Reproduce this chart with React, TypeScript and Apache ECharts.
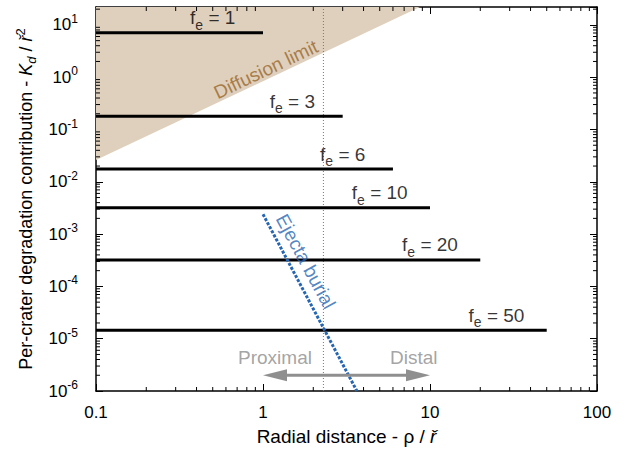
import React, { useEffect, useRef } from "react";
import * as echarts from "echarts";

// ---- data ----
const xRange = [0.1, 100];
const yRange = [1e-6, 22];
const feValues = [1, 3, 6, 10, 20, 50];
const feLevels = [7.1, 0.18, 0.0175, 0.0032, 0.00032, 0.0000145];
const diffusionBoundary = [
  [0.1, 0.026],
  [8.7, 22],
];
const ejectaBurial = [
  [1, 0.0024],
  [3.65, 1e-6],
];
const regionDivider = 2.3;
const arrowSpan = [1, 10];
const arrowLevel = 2e-6;
const xMajorLabels = ["0.1", "1", "10", "100"];
const mantissas = [2, 3, 4, 5, 6, 7, 8, 9];
const xDecades = [0.1, 1, 10];
const yDecades = [1e-6, 1e-5, 1e-4, 1e-3, 1e-2, 1e-1, 1, 10];
const diffusionLabelAt = [1.04, 1.41];
const ejectaLabelAt = [1.8, 3.0e-4];
const proximalLabelAt = [1.18, 4.3e-6];
const distalLabelAt = [8.0, 4.3e-6];

const FONT = "'Liberation Sans', Arial, Helvetica, sans-serif";

const xMinorTicks: number[] = [];
xDecades.forEach((d) => mantissas.forEach((m) => xMinorTicks.push(+(m * d).toPrecision(3))));
const yMinorTicks: number[] = [];
yDecades.forEach((d) =>
  mantissas.forEach((m) => {
    const v = +(m * d).toPrecision(3);
    if (v < yRange[1]) yMinorTicks.push(v);
  })
);

export default function App() {
  const ref = useRef<HTMLDivElement>(null);
  useEffect(() => {
    if (!ref.current) return;
    const chart = echarts.init(ref.current, null, { renderer: "svg" });
    const axisLine = { show: true, onZero: false, lineStyle: { color: "#000", width: 1.5 } };
    const majorTick = { show: true, inside: true, length: 7, lineStyle: { color: "#000", width: 1 } };
    const feRich = {
      f: { fontSize: 19, fontFamily: FONT, color: "#000", lineHeight: 28 },
      e: { fontSize: 14, fontFamily: FONT, color: "#000", lineHeight: 14, verticalAlign: "bottom" },
    };

    const series: any[] = [];
    // diffusion limit shaded region
    series.push({
      type: "line",
      data: diffusionBoundary,
      symbol: "none",
      lineStyle: { width: 0 },
      areaStyle: { color: "#dfd0bd", opacity: 1, origin: "end" },
      z: 1,
      silent: true,
    });
    // vertical dotted divider
    series.push({
      type: "line",
      data: [
        [regionDivider, yRange[0]],
        [regionDivider, yRange[1]],
      ],
      symbol: "none",
      lineStyle: { color: "#777", width: 1, type: [1, 2] },
      z: 2,
      silent: true,
    });
    // f_e lines
    feValues.forEach((fe, i) => {
      series.push({
        type: "line",
        data: [
          [xRange[0], feLevels[i]],
          [fe, feLevels[i]],
        ],
        symbol: "none",
        lineStyle: { color: "#000", width: 3 },
        z: 3,
        silent: true,
      });
    });
    // f_e labels
    series.push({
      type: "scatter",
      symbolSize: 0,
      data: feValues.map((fe, i) => [fe / 2, feLevels[i]]),
      label: {
        show: true,
        position: "top",
        distance: 1,
        formatter: (p: any) => `{f|f}{e|e}{f| = ${feValues[p.dataIndex]}}`,
        rich: feRich,
      },
      z: 6,
      silent: true,
    });
    // ejecta burial
    series.push({
      type: "line",
      data: ejectaBurial,
      symbol: "none",
      lineStyle: { color: "#2566b3", width: 3, type: [3, 1.6] },
      z: 4,
      silent: true,
    });
    // annotation texts
    series.push({
      type: "scatter",
      symbolSize: 0,
      data: [
        { value: diffusionLabelAt, label: { formatter: "Diffusion limit", rotate: 25.4, color: "#99662a" } },
        { value: ejectaLabelAt, label: { formatter: "Ejecta burial", rotate: -61.7, color: "#2566b3" } },
        { value: proximalLabelAt, label: { formatter: "Proximal", color: "#8c8c8c" } },
        { value: distalLabelAt, label: { formatter: "Distal", color: "#8c8c8c" } },
      ],
      label: { show: true, position: "inside", fontSize: 19, fontFamily: FONT },
      z: 6,
      silent: true,
    });
    // arrow
    series.push({
      type: "custom",
      data: [[arrowSpan[0], arrowLevel]],
      clip: false,
      silent: true,
      z: 5,
      renderItem: (params: any, api: any) => {
        const a = api.coord([arrowSpan[0], arrowLevel]);
        const b = api.coord([arrowSpan[1], arrowLevel]);
        const hl = 24;
        const hw = 6;
        const col = "#8f8f8f";
        return {
          type: "group",
          children: [
            { type: "line", shape: { x1: a[0] + hl - 2, y1: a[1], x2: b[0] - hl + 2, y2: b[1] }, style: { stroke: col, lineWidth: 3 } },
            { type: "polygon", shape: { points: [[a[0], a[1]], [a[0] + hl, a[1] - hw], [a[0] + hl, a[1] + hw]] }, style: { fill: col } },
            { type: "polygon", shape: { points: [[b[0], b[1]], [b[0] - hl, b[1] - hw], [b[0] - hl, b[1] + hw]] }, style: { fill: col } },
          ],
        };
      },
    });
    // minor ticks x (bottom & top)
    series.push({
      type: "custom",
      data: xMinorTicks.map((v) => [v, yRange[0]]),
      clip: false,
      silent: true,
      z: 7,
      renderItem: (params: any, api: any) => {
        const v = api.value(0);
        const b = api.coord([v, yRange[0]]);
        const t = api.coord([v, yRange[1]]);
        return {
          type: "group",
          children: [
            { type: "line", shape: { x1: b[0], y1: b[1], x2: b[0], y2: b[1] - 4 }, style: { stroke: "#000", lineWidth: 1 } },
            { type: "line", shape: { x1: t[0], y1: t[1], x2: t[0], y2: t[1] + 4 }, style: { stroke: "#000", lineWidth: 1 } },
          ],
        };
      },
    });
    // minor ticks y (left & right)
    series.push({
      type: "custom",
      data: yMinorTicks.map((v) => [xRange[0], v]),
      clip: false,
      silent: true,
      z: 7,
      renderItem: (params: any, api: any) => {
        const v = api.value(1);
        const l = api.coord([xRange[0], v]);
        const r = api.coord([xRange[1], v]);
        return {
          type: "group",
          children: [
            { type: "line", shape: { x1: l[0], y1: l[1], x2: l[0] + 4, y2: l[1] }, style: { stroke: "#000", lineWidth: 1 } },
            { type: "line", shape: { x1: r[0], y1: r[1], x2: r[0] - 4, y2: r[1] }, style: { stroke: "#000", lineWidth: 1 } },
          ],
        };
      },
    });

    const option: any = {
      animation: false,
      backgroundColor: "#fff",
      grid: { left: 96, right: 41, top: 7, bottom: 63, outerBoundsMode: "none", containLabel: false },
      xAxis: [
        {
          type: "log",
          logBase: 10,
          min: xRange[0],
          max: xRange[1],
          position: "bottom",
          axisLine,
          axisTick: majorTick,
          splitLine: { show: false },
          axisLabel: {
            fontSize: 17,
            fontFamily: FONT,
            color: "#000",
            margin: 13,
            formatter: (v: number) => {
              const k = Math.round(Math.log10(v) + 1);
              return Math.abs(Math.log10(v) + 1 - k) < 1e-6 ? xMajorLabels[k] ?? "" : "";
            },
          },
          name: "{n|Radial distance - ρ / }{i|ř}",
          nameLocation: "middle",
          nameGap: 33,
          nameTextStyle: {
            rich: {
              n: { fontSize: 19, fontFamily: FONT, color: "#000", lineHeight: 24 },
              i: { fontSize: 19, fontFamily: FONT, color: "#000", fontStyle: "italic", lineHeight: 24 },
            },
          },
        },
        {
          type: "log",
          logBase: 10,
          min: xRange[0],
          max: xRange[1],
          position: "top",
          axisLine,
          axisTick: majorTick,
          splitLine: { show: false },
          axisLabel: { show: false },
        },
      ],
      yAxis: [
        {
          type: "log",
          logBase: 10,
          min: yRange[0],
          max: yRange[1],
          position: "left",
          axisLine,
          axisTick: majorTick,
          splitLine: { show: false },
          axisLabel: {
            margin: 18,
            formatter: (v: number) => {
              const l = Math.log10(v);
              const e = Math.round(l);
              if (Math.abs(l - e) > 1e-6) return "";
              return `{b|10}{s|${e}}`;
            },
            rich: {
              b: { fontSize: 17, fontFamily: FONT, color: "#000", lineHeight: 24 },
              s: { fontSize: 12, fontFamily: FONT, color: "#000", lineHeight: 12, verticalAlign: "top" },
            },
          },
          name: "{n|Per-crater degradation contribution - }{i|K}{sub|d}{n| / }{i|ř}{sup|2}",
          nameLocation: "middle",
          nameRotate: 90,
          nameGap: 51,
          nameTextStyle: {
            rich: {
              n: { fontSize: 18, fontFamily: FONT, color: "#000", lineHeight: 24 },
              i: { fontSize: 18, fontFamily: FONT, color: "#000", fontStyle: "italic", lineHeight: 24 },
              sub: { fontSize: 13, fontFamily: FONT, color: "#000", fontStyle: "italic", lineHeight: 13, verticalAlign: "bottom" },
              sup: { fontSize: 13, fontFamily: FONT, color: "#000", lineHeight: 13, verticalAlign: "top" },
            },
          },
        },
        {
          type: "log",
          logBase: 10,
          min: yRange[0],
          max: yRange[1],
          position: "right",
          axisLine,
          axisTick: majorTick,
          splitLine: { show: false },
          axisLabel: { show: false },
        },
      ],
      series,
    };
    chart.setOption(option);
    return () => chart.dispose();
  }, []);
  return <div ref={ref} style={{ width: 638, height: 454, position: "absolute", left: 0, top: 0 }} />;
}
